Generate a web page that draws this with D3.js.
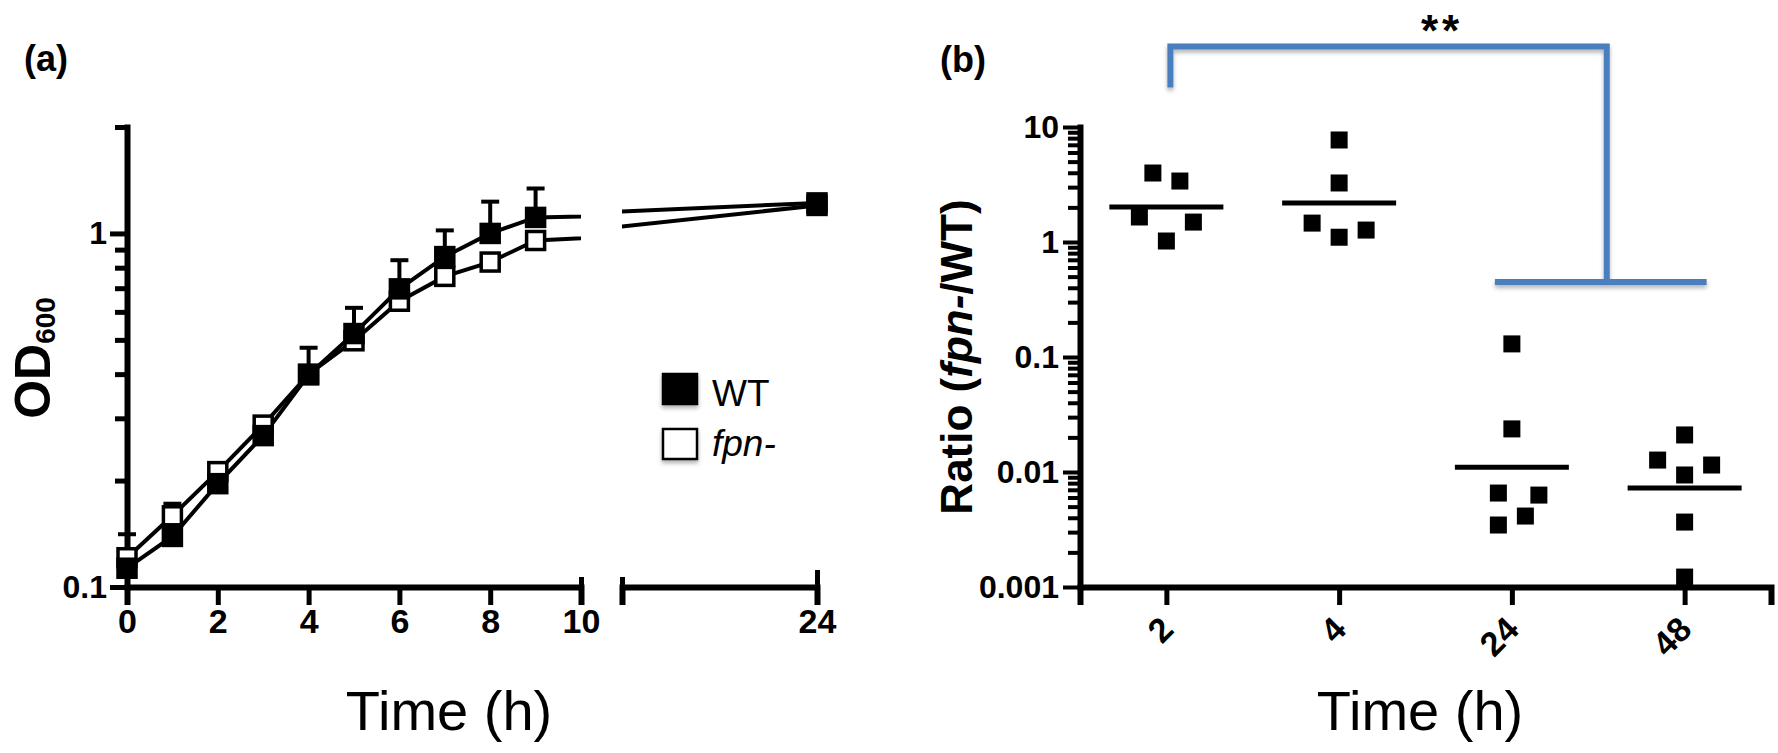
<!DOCTYPE html>
<html>
<head>
<meta charset="utf-8">
<script src="https://cdn.jsdelivr.net/npm/d3@7"></script>
<style>
  body { margin: 0; background: #fff; }
  text { font-family: "Liberation Sans", Arial, sans-serif; fill: #000; }
  .tick text { font-family: "Liberation Sans Narrow", "Liberation Sans", Arial, sans-serif; font-weight: bold; }
</style>
</head>
<body>
<div id="chart"></div>
<script>
// ---- panel (a) data: growth curves ----
const hours = [0, 1, 2, 3, 4, 5, 6, 7, 8, 9, 24];
const wtOD = [0.113, 0.139, 0.196, 0.268, 0.398, 0.521, 0.697, 0.86, 1.0, 1.11, 1.22];
const wtErrTop = [0.141, 0.172, null, null, 0.475, 0.616, 0.84, 1.02, 1.23, 1.34, null];
const fpnOD = [0.121, 0.159, 0.212, 0.287, 0.40, 0.497, 0.643, 0.756, 0.83, 0.955, 1.2];
const xTicksA = [0, 2, 4, 6, 8, 10];
const yTicksA = [0.1, 0.2, 0.3, 0.4, 0.5, 0.6, 0.7, 0.8, 0.9, 1, 2];

// ---- panel (b) data: ratio fpn-/WT ----
const groupsB = ["2", "4", "24", "48"];
const ratioVals = [
    [3.98, 3.39, 1.65, 1.49, 1.02],
    [7.71, 3.26, 1.46, 1.27, 1.10],
    [0.130, 0.0237, 0.00656, 0.0063, 0.00414, 0.00346],
    [0.0210, 0.0127, 0.0115, 0.00942, 0.00367, 0.00122]
];
// horizontal slot of each point (scatter spread)
const ratioSlot = [
    [-1, 1, -2, 2, 0],
    [0, 0, -2, 2, 0],
    [0, 0, -1, 2, 1, -1],
    [0, -2, 2, 0, 0, 0]
];
const ratioMean = [2.02, 2.18, 0.0110, 0.00726];
const yTicksB = [0.001, 0.01, 0.1, 1, 10];

const W = 1778, H = 753;
const svg = d3.select("#chart").append("svg")
    .attr("width", W)
    .attr("height", H);

const defs = svg.append("defs");
defs.append("filter").attr("id", "shadow")
    .attr("x", "-20%").attr("y", "-20%").attr("width", "140%").attr("height", "160%")
    .append("feDropShadow")
    .attr("dx", 0).attr("dy", 3).attr("stdDeviation", 2)
    .attr("flood-color", "#000").attr("flood-opacity", 0.3);

// =================== panel (a) ===================
const yA = d3.scaleLog().domain([0.1, 2]).range([587, 127]);
const xA1 = d3.scaleLinear().domain([0, 10]).range([127, 581]);
const xA2 = d3.scaleLinear().domain([15, 24]).range([622, 817]);

defs.append("clipPath").attr("id", "clipA1")
    .append("rect").attr("x", 0).attr("y", 0).attr("width", 581).attr("height", H);
defs.append("clipPath").attr("id", "clipA2")
    .append("rect").attr("x", 622).attr("y", 0).attr("width", 300).attr("height", H);

const ga = svg.append("g");

// y axis
const yAxisA = d3.axisLeft(yA)
    .tickValues(yTicksA)
    .tickSizeOuter(0)
    .tickFormat(d => (d === 0.1 ? "0.1" : d === 1 ? "1" : ""));
const yAxA = ga.append("g").attr("transform", "translate(127,0)").call(yAxisA);
yAxA.select(".domain").attr("stroke-width", 6).attr("stroke-linecap", "square");
yAxA.selectAll(".tick line")
    .attr("stroke-width", 5)
    .attr("x2", d => (d === 0.1 || d === 1) ? -17 : -12);
yAxA.selectAll(".tick text").attr("x", -20).attr("font-size", 32);

// x axis, first segment
const xAxA1 = ga.append("g").attr("transform", "translate(0,587)")
    .call(d3.axisBottom(xA1).tickValues(xTicksA).tickSizeOuter(0).tickSize(18));
xAxA1.select(".domain").attr("stroke-width", 6);
xAxA1.selectAll(".tick line").attr("stroke-width", 5)
    .attr("y1", d => d === 10 ? -10 : 0);
xAxA1.selectAll(".tick text").attr("font-size", 34).attr("y", 22);

// x axis, second segment after the break
const xAxA2 = ga.append("g").attr("transform", "translate(0,587)")
    .call(d3.axisBottom(xA2).tickValues([15, 24]).tickSizeOuter(0).tickSize(18)
        .tickFormat(d => d === 24 ? "24" : ""));
xAxA2.select(".domain").attr("stroke-width", 6);
xAxA2.selectAll(".tick line").attr("stroke-width", 5)
    .attr("y1", d => d === 24 ? -17 : -10)
    .attr("y2", d => d === 24 ? 18 : 10);
xAxA2.selectAll(".tick text").attr("font-size", 34).attr("y", 22);

// series lines, drawn once per axis segment and clipped
const seriesA = [
    { name: "WT", vals: wtOD, fill: "#000" },
    { name: "fpn-", vals: fpnOD, fill: "#fff" }
];
[["clipA1", xA1], ["clipA2", xA2]].forEach(([clip, xs]) => {
    const line = d3.line()
        .x((d, i) => xs(hours[i]))
        .y(d => yA(d));
    ga.append("g").attr("clip-path", `url(#${clip})`)
        .selectAll("path")
        .data(seriesA)
        .enter()
        .append("path")
        .attr("d", s => line(s.vals))
        .attr("fill", "none")
        .attr("stroke", "#000")
        .attr("stroke-width", 4);
});

const xAt = h => (h <= 10 ? xA1(h) : xA2(h));

// error bars (upper only) on WT
const errData = hours.map((h, i) => ({ h: h, v: wtOD[i], top: wtErrTop[i] }))
    .filter(d => d.top !== null);
ga.append("g").selectAll("line.bar")
    .data(errData)
    .enter()
    .append("line")
    .attr("x1", d => xAt(d.h)).attr("x2", d => xAt(d.h))
    .attr("y1", d => yA(d.v)).attr("y2", d => yA(d.top))
    .attr("stroke", "#000").attr("stroke-width", 4);
ga.append("g").selectAll("line.cap")
    .data(errData)
    .enter()
    .append("line")
    .attr("x1", d => xAt(d.h) - 9).attr("x2", d => xAt(d.h) + 9)
    .attr("y1", d => yA(d.top)).attr("y2", d => yA(d.top))
    .attr("stroke", "#000").attr("stroke-width", 4);

// markers: open squares first, filled on top
const sq = 18;
[seriesA[1], seriesA[0]].forEach(s => {
    ga.append("g").selectAll("rect")
        .data(s.vals)
        .enter()
        .append("rect")
        .attr("x", (d, i) => xAt(hours[i]) - sq / 2)
        .attr("y", d => yA(d) - sq / 2)
        .attr("width", sq).attr("height", sq)
        .attr("fill", s.fill)
        .attr("stroke", "#000").attr("stroke-width", 3.5);
});

// legend
const legA = ga.append("g");
legA.selectAll("rect")
    .data(seriesA)
    .enter()
    .append("rect")
    .attr("x", 663).attr("y", (d, i) => 374 + i * 55)
    .attr("width", 34).attr("height", 30)
    .attr("fill", d => d.fill)
    .attr("stroke", "#000").attr("stroke-width", 2.5)
    .attr("filter", "url(#shadow)");
legA.selectAll("text")
    .data(seriesA)
    .enter()
    .append("text")
    .attr("x", 712).attr("y", (d, i) => 406 + i * 50)
    .attr("font-size", 37)
    .attr("font-style", d => d.name === "WT" ? "normal" : "italic")
    .text(d => d.name);

// axis titles
const odLab = ga.append("text")
    .attr("transform", "translate(50,358) rotate(-90)")
    .attr("text-anchor", "middle")
    .attr("font-weight", "bold")
    .attr("font-size", 50);
odLab.append("tspan").text("OD");
odLab.append("tspan").attr("font-size", 28).attr("dy", 5).text("600");

ga.append("text")
    .attr("x", 449).attr("y", 730)
    .attr("text-anchor", "middle")
    .attr("font-size", 56)
    .text("Time (h)");

ga.append("text")
    .attr("x", 24).attr("y", 71)
    .attr("font-weight", "bold").attr("font-size", 36)
    .text("(a)");

// =================== panel (b) ===================
const xB = d3.scalePoint().domain(groupsB).range([1080, 1771]).padding(0.5);
const yB = d3.scaleLog().domain([0.001, 10]).range([587, 127]);

const gb = svg.append("g");

// minor ticks 2..9 within every decade
const minorB = [];
yTicksB.slice(0, -1).forEach(dec => {
    for (let k = 2; k <= 9; k++) minorB.push(dec * k);
});
const yAxisB = d3.axisLeft(yB)
    .tickValues(yTicksB.concat(minorB))
    .tickSizeOuter(0)
    .tickFormat(d => yTicksB.includes(d) ? String(d) : "");
const yAxB = gb.append("g").attr("transform", "translate(1080,0)").call(yAxisB);
yAxB.select(".domain").attr("stroke-width", 6).attr("stroke-linecap", "square");
yAxB.selectAll(".tick line")
    .attr("stroke-width", 4)
    .attr("x2", d => yTicksB.includes(d) ? -17 : -12);
yAxB.selectAll(".tick text").attr("x", -21).attr("font-size", 32);

const xAxB = gb.append("g").attr("transform", "translate(0,587)")
    .call(d3.axisBottom(xB).tickSizeOuter(0).tickSize(18));
xAxB.select(".domain").attr("stroke-width", 6);
xAxB.selectAll(".tick line").attr("stroke-width", 5);
xAxB.selectAll(".tick text")
    .attr("font-size", 34)
    .attr("text-anchor", "end")
    .attr("y", 0).attr("dy", "0.35em")
    .attr("transform", "translate(0,36) rotate(-45)");

// points
const ptsB = [];
groupsB.forEach((g, gi) => {
    ratioVals[gi].forEach((v, j) => ptsB.push({ g: g, v: v, slot: ratioSlot[gi][j] }));
});
const sqB = 17, slotW = 13.5;
gb.append("g").selectAll("rect")
    .data(ptsB)
    .enter()
    .append("rect")
    .attr("x", d => xB(d.g) + d.slot * slotW - sqB / 2)
    .attr("y", d => yB(d.v) - sqB / 2)
    .attr("width", sqB).attr("height", sqB)
    .attr("fill", "#000");

// geometric-mean lines
gb.append("g").selectAll("line")
    .data(groupsB)
    .enter()
    .append("line")
    .attr("x1", d => xB(d) - 57).attr("x2", d => xB(d) + 57)
    .attr("y1", (d, i) => yB(ratioMean[i])).attr("y2", (d, i) => yB(ratioMean[i]))
    .attr("stroke", "#000").attr("stroke-width", 5);

// significance bracket (2 h vs 24/48 h)
const brTop = 50, brLeg = 22, brFoot = 0.45;
const footL = xB("24") - 17, footR = xB("48") + 22;
const midR = (footL + footR) / 2 + 6;
const br = gb.append("g")
    .attr("fill", "none")
    .attr("stroke", "#4a7ebf")
    .attr("stroke-width", 6)
    .attr("filter", "url(#shadow)");
br.append("path")
    .attr("d", `M${xB("2") + 4},${yB(brLeg)} V${yB(brTop)} H${midR} V${yB(brFoot)}`);
br.append("line")
    .attr("x1", footL).attr("x2", footR)
    .attr("y1", yB(brFoot)).attr("y2", yB(brFoot));
gb.append("text")
    .attr("x", 1442).attr("y", 46)
    .attr("text-anchor", "middle")
    .attr("font-size", 44)
    .attr("font-weight", "bold")
    .attr("letter-spacing", 4)
    .text("**");

// axis titles
const ratioLab = gb.append("text")
    .attr("transform", "translate(972,357) rotate(-90)")
    .attr("text-anchor", "middle")
    .attr("font-weight", "bold")
    .attr("font-size", 44);
ratioLab.append("tspan").text("Ratio (");
ratioLab.append("tspan").attr("font-style", "italic").text("fpn-");
ratioLab.append("tspan").text("/WT)");

gb.append("text")
    .attr("x", 1420).attr("y", 730)
    .attr("text-anchor", "middle")
    .attr("font-size", 56)
    .text("Time (h)");

gb.append("text")
    .attr("x", 940).attr("y", 72)
    .attr("font-weight", "bold").attr("font-size", 36)
    .text("(b)");
</script>
</body>
</html>
